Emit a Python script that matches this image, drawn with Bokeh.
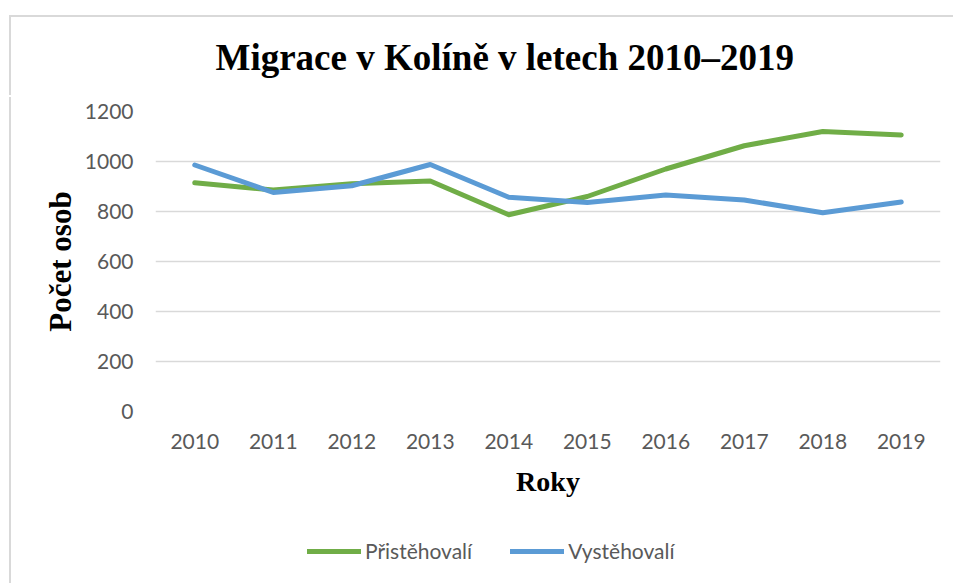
from bokeh.plotting import figure
from bokeh.models import Legend, LegendItem, FactorRange, Range1d, FixedTicker, Label
from bokeh.embed import file_html
from bokeh.resources import INLINE

years = ["2010", "2011", "2012", "2013", "2014", "2015", "2016", "2017", "2018", "2019"]
pristehovali = [915, 886, 911, 922, 787, 860, 970, 1063, 1120, 1106]
vystehovali = [986, 876, 903, 988, 857, 836, 866, 846, 795, 838]
y_ticks = [0, 200, 400, 600, 800, 1000, 1200]

title_text = "Migrace v Kolíně v letech 2010–2019"
x_label = "Roky"
y_label = "Počet osob"
series_names = ["Přistěhovalí", "Vystěhovalí"]

GREEN = "#70AD47"
BLUE = "#5B9BD5"
GRID = "#D9D9D9"
TXT = "#595959"
BORDER = "2px solid #D9D9D9"

W = 944

# ---- title strip (top of the chart area) ----
TH = 80
pt = figure(width=W, height=TH, x_range=Range1d(0, W), y_range=Range1d(0, TH),
            output_backend="svg", toolbar_location=None, min_border=0,
            x_axis_location=None, y_axis_location=None,
            styles={"border-left": BORDER, "border-top": BORDER,
                    "position": "absolute", "left": "9px", "top": "15px"})
pt.outline_line_color = None
pt.xgrid.visible = False
pt.ygrid.visible = False
pt.add_layout(Label(x=204, y=40, text=title_text, text_font="Liberation Serif",
                    text_font_style="bold", text_font_size="37px", text_color="black",
                    text_align="left", text_baseline="alphabetic"))

# ---- main chart ----
H = 423
p = figure(width=W, height=H, x_range=FactorRange(*years, range_padding=0),
           y_range=Range1d(0, 1200), output_backend="svg", toolbar_location=None,
           min_border_left=144, min_border_right=W - 929, min_border_top=14,
           min_border_bottom=H - 314,
           styles={"border-left": BORDER,
                   "position": "absolute", "left": "9px", "top": "97px"})
p.title_location = None
p.outline_line_color = None
p.background_fill_color = "white"
p.border_fill_color = "white"

p.xgrid.grid_line_color = None
p.ygrid.grid_line_color = GRID
p.ygrid.grid_line_width = 1.3
p.yaxis.ticker = FixedTicker(ticks=y_ticks)

for ax in (p.xaxis[0], p.yaxis[0]):
    ax.axis_line_color = None
    ax.major_tick_line_color = None
    ax.minor_tick_line_color = None
    ax.major_tick_out = 0
    ax.major_tick_in = 0
    ax.major_label_text_font = "Lato"
    ax.major_label_text_font_size = "21px"
    ax.major_label_text_color = TXT
    ax.axis_label_text_font = "Liberation Serif"
    ax.axis_label_text_font_style = "bold"
    ax.axis_label_text_color = "black"

p.xaxis.axis_label_text_font_size = "28px"
p.yaxis.axis_label_text_font_size = "31px"
p.yaxis.major_label_standoff = 22
p.xaxis.major_label_standoff = 22
p.yaxis.axis_label = y_label
p.xaxis.axis_label = x_label
p.yaxis.axis_label_standoff = 4
p.xaxis.axis_label_standoff = 14

p.line(years, pristehovali, line_color=GREEN, line_width=5, line_cap="round", line_join="round")
p.line(years, vystehovali, line_color=BLUE, line_width=5, line_cap="round", line_join="round")

# ---- legend strip below the chart (series drawn out of its view; only the legend shows) ----
p2 = figure(width=W, height=63, x_range=Range1d(0, 1), y_range=Range1d(0, 1),
            output_backend="svg", toolbar_location=None, min_border=0,
            x_axis_location=None, y_axis_location=None,
            styles={"border-left": BORDER,
                    "position": "absolute", "left": "9px", "top": "520px"})
p2.outline_line_color = None
p2.xgrid.visible = False
p2.ygrid.visible = False
idx = list(range(len(years)))
g1 = p2.line(idx, pristehovali, line_color=GREEN, line_width=5, line_cap="round")
g2 = p2.line(idx, vystehovali, line_color=BLUE, line_width=5, line_cap="round")

legend = Legend(items=[LegendItem(label=series_names[0], renderers=[g1]),
                       LegendItem(label=series_names[1], renderers=[g2])],
                orientation="horizontal", location=(296, 20))
legend.border_line_color = None
legend.background_fill_alpha = 0
legend.padding = 0
legend.margin = 0
legend.glyph_width = 54
legend.glyph_height = 20
legend.label_standoff = 4
legend.spacing = 38
legend.label_text_font = "Lato"
legend.label_text_font_size = "21px"
legend.label_text_color = TXT
p2.add_layout(legend)

open("out.html", "w").write(file_html([pt, p, p2], INLINE))
